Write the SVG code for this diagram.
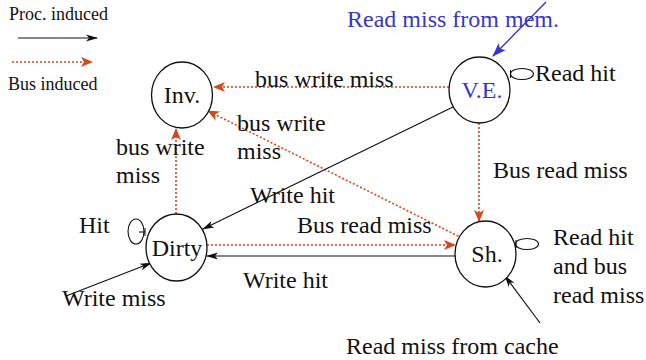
<svg xmlns="http://www.w3.org/2000/svg" width="646" height="360" viewBox="0 0 646 360">
  <style>
    text { font-family: "Liberation Serif", "Times New Roman", serif; fill: #111; }
    .lbl { font-size: 24px; }
    .leg { font-size: 18px; }
    .blue { fill: #3636cc; }
    .state { fill: #fff; stroke: #111; stroke-width: 1.3; }
    .proc { fill: none; stroke: #111; stroke-width: 1.2; }
    .bus { fill: none; stroke: #d9461a; stroke-width: 1.6; stroke-dasharray: 2 2; }
    .mem { fill: none; stroke: #3636cc; stroke-width: 1.4; }
    .loop { fill: none; stroke: #111; stroke-width: 1.1; }
  </style>
  <defs>
    <marker id="ah-proc" viewBox="0 0 12 8" refX="11" refY="4" markerWidth="12" markerHeight="8" markerUnits="userSpaceOnUse" orient="auto">
      <path d="M0,0.5 L12,4 L0,7.5 L3,4 z" fill="#111"/>
    </marker>
    <marker id="ah-bus" viewBox="0 0 12 10" refX="11" refY="5" markerWidth="12" markerHeight="10" markerUnits="userSpaceOnUse" orient="auto">
      <path d="M0,0 L12,5 L0,10 L3,5 z" fill="#d9461a"/>
    </marker>
    <marker id="ah-mem" viewBox="0 0 14 10" refX="13" refY="5" markerWidth="14" markerHeight="10" markerUnits="userSpaceOnUse" orient="auto">
      <path d="M0,0 L14,5 L0,10 L3,5 z" fill="#3636cc"/>
    </marker>
  </defs>

  <!-- legend -->
  <g id="legend">
    <text class="leg" x="9" y="20">Proc. induced</text>
    <line class="proc" x1="18" y1="38" x2="97" y2="38" marker-end="url(#ah-proc)"/>
    <line class="bus" x1="12" y1="62" x2="92" y2="62" marker-end="url(#ah-bus)"/>
    <text class="leg" x="8" y="90">Bus induced</text>
  </g>

  <!-- transitions -->
  <g id="connectors">
    <line class="bus" x1="449" y1="87" x2="214" y2="87" marker-end="url(#ah-bus)"/>
    <line class="bus" x1="462" y1="238" x2="208" y2="111" marker-end="url(#ah-bus)"/>
    <line class="proc" x1="455" y1="106" x2="203" y2="229" marker-end="url(#ah-proc)"/>
    <line class="bus" x1="479" y1="123" x2="479" y2="221" marker-end="url(#ah-bus)"/>
    <line class="bus" x1="176" y1="214" x2="176" y2="129" marker-end="url(#ah-bus)"/>
    <line class="bus" x1="207" y1="245" x2="455" y2="245" marker-end="url(#ah-bus)"/>
    <line class="proc" x1="455" y1="256" x2="207" y2="256" marker-end="url(#ah-proc)"/>
    <line class="proc" x1="66" y1="296" x2="151" y2="263" marker-end="url(#ah-proc)"/>
    <line class="proc" x1="540" y1="323" x2="505" y2="276" marker-end="url(#ah-proc)"/>
    <line class="mem" x1="546" y1="2" x2="493" y2="56" marker-end="url(#ah-mem)"/>
    <!-- self loops -->
    <ellipse class="loop" cx="522" cy="74" rx="11.5" ry="5.5"/>
    <line class="loop" x1="510.5" y1="70" x2="510.5" y2="78"/>
    <ellipse class="loop" cx="527" cy="244" rx="11.5" ry="5.5"/>
    <line class="loop" x1="516" y1="240" x2="516" y2="248"/>
    <ellipse class="loop" cx="136" cy="231.5" rx="8" ry="12.5"/>
    <line class="loop" x1="139" y1="232" x2="145" y2="232"/>
    <line class="loop" x1="145" y1="228" x2="145" y2="236"/>
  </g>

  <!-- states -->
  <g id="inv">
    <ellipse class="state" cx="182" cy="95" rx="30.5" ry="33"/>
    <text class="lbl" x="182" y="103" text-anchor="middle">Inv.</text>
  </g>
  <g id="ve">
    <ellipse class="state" cx="479.5" cy="90" rx="30.5" ry="33"/>
    <text class="lbl blue" x="482" y="98" text-anchor="middle">V.E.</text>
  </g>
  <g id="dirty">
    <ellipse class="state" cx="176.5" cy="247.5" rx="30.5" ry="33.5"/>
    <text class="lbl" x="177" y="256" text-anchor="middle">Dirty</text>
  </g>
  <g id="sh">
    <ellipse class="state" cx="485.5" cy="254" rx="30.5" ry="33"/>
    <text class="lbl" x="487" y="262" text-anchor="middle">Sh.</text>
  </g>

  <!-- transition labels -->
  <g id="labels">
    <text class="lbl blue" x="347" y="27">Read miss from mem.</text>
    <text class="lbl" x="535" y="81">Read hit</text>
    <text class="lbl" x="255" y="87">bus write miss</text>
    <text class="lbl" x="237" y="131">bus write</text>
    <text class="lbl" x="237" y="159">miss</text>
    <text class="lbl" x="116" y="155">bus write</text>
    <text class="lbl" x="116" y="183">miss</text>
    <text class="lbl" x="493" y="178">Bus read miss</text>
    <text class="lbl" x="250" y="203">Write hit</text>
    <text class="lbl" x="297" y="233">Bus read miss</text>
    <text class="lbl" x="79" y="233">Hit</text>
    <text class="lbl" x="243" y="288">Write hit</text>
    <text class="lbl" x="62" y="306">Write miss</text>
    <text class="lbl" x="553" y="245">Read hit</text>
    <text class="lbl" x="553" y="274">and bus</text>
    <text class="lbl" x="553" y="303">read miss</text>
    <text class="lbl" x="346" y="354">Read miss from cache</text>
  </g>
</svg>
